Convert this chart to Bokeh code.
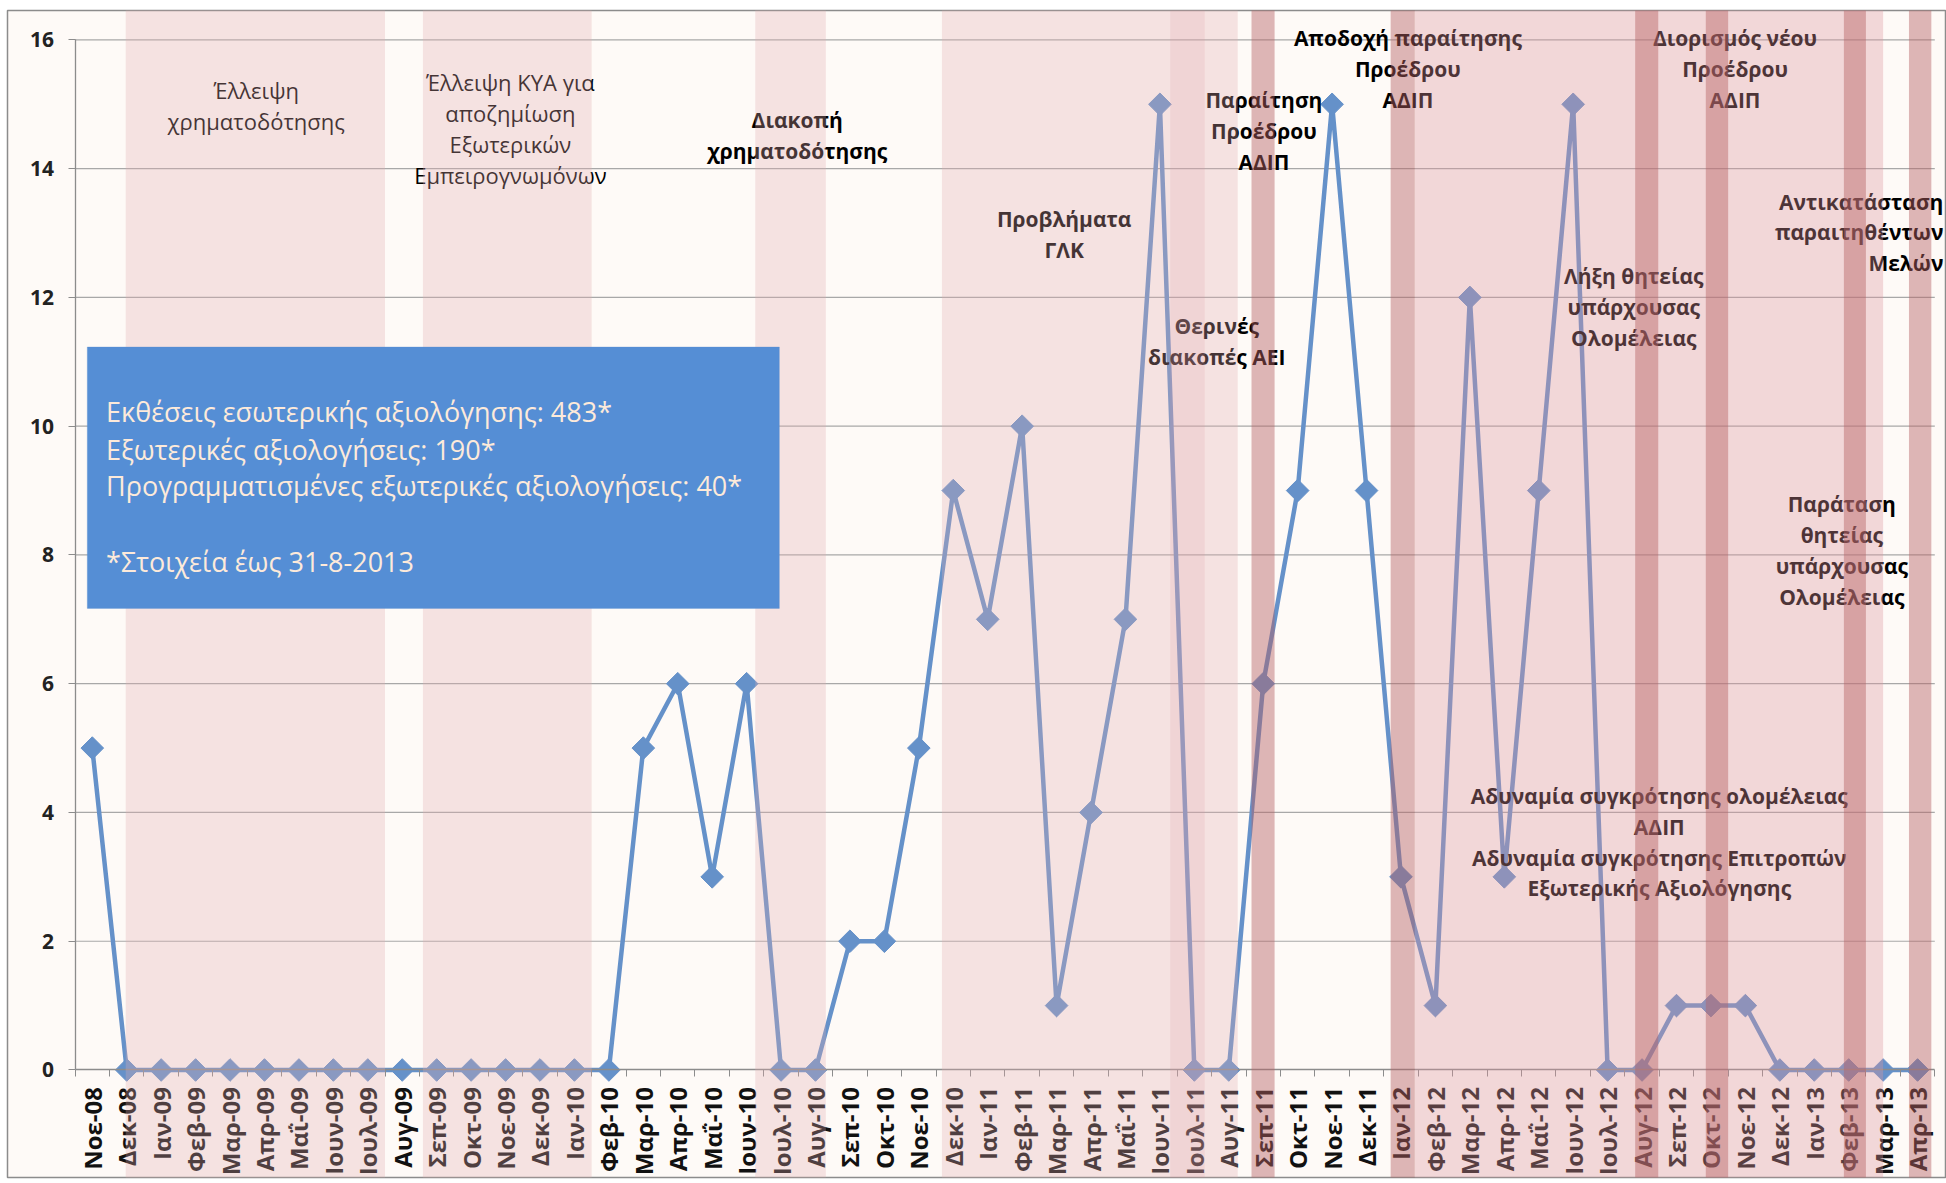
import math
from bokeh.plotting import figure
from bokeh.models import Range1d, FixedTicker, BoxAnnotation, Label
from bokeh.embed import file_html
from bokeh.resources import INLINE
from bokeh.core.properties import value

# ---------------- data ----------------
months = ["Νοε-08", "Δεκ-08",
          "Ιαν-09", "Φεβ-09", "Μαρ-09", "Απρ-09", "Μαΐ-09", "Ιουν-09", "Ιουλ-09", "Αυγ-09",
          "Σεπ-09", "Οκτ-09", "Νοε-09", "Δεκ-09",
          "Ιαν-10", "Φεβ-10", "Μαρ-10", "Απρ-10", "Μαΐ-10", "Ιουν-10", "Ιουλ-10", "Αυγ-10",
          "Σεπ-10", "Οκτ-10", "Νοε-10", "Δεκ-10",
          "Ιαν-11", "Φεβ-11", "Μαρ-11", "Απρ-11", "Μαΐ-11", "Ιουν-11", "Ιουλ-11", "Αυγ-11",
          "Σεπ-11", "Οκτ-11", "Νοε-11", "Δεκ-11",
          "Ιαν-12", "Φεβ-12", "Μαρ-12", "Απρ-12", "Μαΐ-12", "Ιουν-12", "Ιουλ-12", "Αυγ-12",
          "Σεπ-12", "Οκτ-12", "Νοε-12", "Δεκ-12",
          "Ιαν-13", "Φεβ-13", "Μαρ-13", "Απρ-13"]

counts = [5, 0,
          0, 0, 0, 0, 0, 0, 0, 0, 0, 0, 0, 0,
          0, 0, 5, 6, 3, 6, 0, 0, 2, 2, 5, 9,
          7, 10, 1, 4, 7, 15, 0, 0, 6, 9, 15, 9,
          3, 1, 12, 3, 9, 15, 0, 0, 1, 1, 1, 0,
          0, 0, 0, 0]

y_ticks = [0, 2, 4, 6, 8, 10, 12, 14, 16]

# shaded periods (positions on the month axis)
light_start = [0.97, 9.6, 19.25, 24.67]
light_end = [8.5, 14.5, 21.3, 33.26]
sub_start = [31.3]
sub_end = [32.3]
mid_start = [38.4]
mid_end = [52.0]
dark_start = [33.66, 37.7, 44.8, 46.85, 50.86, 52.75]
dark_end = [34.33, 38.4, 45.47, 47.5, 51.5, 53.4]

box_lines = ["Εκθέσεις εσωτερικής αξιολόγησης: 483*",
             "Εξωτερικές αξιολογήσεις: 190*",
             "Προγραμματισμένες εξωτερικές αξιολογήσεις: 40*",
             "*Στοιχεία έως 31-8-2013"]

# annotations: (lines, x, first-line y, weight, align)
notes = [
    (["Έλλειψη", "χρηματοδότησης"], 4.76, 15.22, "normal", "center"),
    (["Έλλειψη ΚΥΑ για", "αποζημίωση", "Εξωτερικών", "Εμπειρογνωμόνων"], 12.14, 15.34, "normal", "center"),
    (["Διακοπή", "χρηματοδότησης"], 20.47, 14.76, "bold", "center"),
    (["Προβλήματα", "ΓΛΚ"], 28.22, 13.22, "bold", "center"),
    (["Θερινές", "διακοπές ΑΕΙ"], 32.65, 11.56, "bold", "center"),
    (["Παραίτηση", "Προέδρου", "ΑΔΙΠ"], 34.02, 15.07, "bold", "center"),
    (["Αποδοχή παραίτησης", "Προέδρου", "ΑΔΙΠ"], 38.2, 16.03, "bold", "center"),
    (["Διορισμός νέου", "Προέδρου", "ΑΔΙΠ"], 47.7, 16.03, "bold", "center"),
    (["Λήξη θητείας", "υπάρχουσας", "Ολομέλειας"], 44.76, 12.33, "bold", "center"),
    (["Αντικατάσταση", "παραιτηθέντων", "Μελών"], 53.75, 13.49, "bold", "right"),
    (["Παράταση", "θητείας", "υπάρχουσας", "Ολομέλειας"], 50.8, 8.79, "bold", "center"),
    (["Αδυναμία συγκρότησης ολομέλειας", "ΑΔΙΠ", "Αδυναμία συγκρότησης Επιτροπών",
      "Εξωτερικής Αξιολόγησης"], 45.5, 4.26, "bold", "center"),
]

# ---------------- figure ----------------
idx = list(range(len(months)))
x_lo, x_hi = -0.5, len(months) - 0.5

p = figure(width=1946, height=1180,
           x_range=Range1d(-2.462, 53.84), y_range=Range1d(-1.67, 16.457),
           output_backend="svg", toolbar_location=None,
           min_border_left=7, min_border_right=0, min_border_top=10, min_border_bottom=3,
           background_fill_color="#FEFAF7", border_fill_color="white",
           outline_line_color="#8C8C8C", outline_line_width=1.5)
p.xgrid.visible = False
p.ygrid.visible = False

# grid lines
gl = [t for t in y_ticks if t > 0]
p.segment(x0=[x_lo] * len(gl), x1=[x_hi] * len(gl), y0=gl, y1=gl,
          line_color="#A8A8A8", line_width=1.2)

# series
line_color = "#6591C9"
p.line(idx, counts, line_color=line_color, line_width=4.5)
p.scatter(idx, counts, marker="square", angle=math.pi / 4, size=16,
          fill_color=line_color, line_color=line_color)

# annotation texts
ln_h = 0.48
for lines, x, y0, wt, al in notes:
    ys = [y0 - k * ln_h for k in range(len(lines))]
    p.text(x=[x] * len(lines), y=ys, text=lines, text_align=al, text_baseline="middle",
           text_font=value("Open Sans"), text_font_style=wt,
           text_font_size="22px" if wt == "normal" else "21px",
           text_color="#000000")

# axes
xa = p.xaxis[0]
xa.fixed_location = 0
xa.bounds = (x_lo, x_hi)
xa.ticker = FixedTicker(ticks=idx, minor_ticks=[i - 0.5 for i in range(len(months) + 1)])
xa.major_label_overrides = {i: m for i, m in enumerate(months)}
xa.major_label_orientation = math.pi / 2
xa.major_tick_out = 0
xa.major_tick_in = 0
xa.minor_tick_out = 7
xa.minor_tick_in = 0
xa.minor_tick_line_color = "#8C8C8C"
xa.axis_line_color = "#8C8C8C"
xa.axis_line_width = 1.3
xa.major_label_standoff = 10
xa.major_label_text_font = "Open Sans"
xa.major_label_text_font_style = "bold"
xa.major_label_text_font_size = "24px"
xa.major_label_text_color = "#111111"

ya = p.yaxis[0]
ya.fixed_location = x_lo
ya.bounds = (0, 16)
ya.ticker = FixedTicker(ticks=y_ticks, minor_ticks=[])
ya.major_tick_out = 7
ya.major_tick_in = 0
ya.minor_tick_out = 0
ya.minor_tick_in = 0
ya.major_tick_line_color = "#8C8C8C"
ya.axis_line_color = "#8C8C8C"
ya.axis_line_width = 1.3
ya.major_label_standoff = 14
ya.major_label_text_font = "Open Sans"
ya.major_label_text_font_style = "bold"
ya.major_label_text_font_size = "21px"
ya.major_label_text_color = "#222222"

# shaded periods (drawn above line, texts and axis labels)
y_lo, y_hi = p.y_range.start, p.y_range.end
p.quad(left=light_start, right=light_end, bottom=y_lo, top=y_hi,
       fill_color="#E0ADB1", fill_alpha=0.3, line_color=None, level="annotation")
p.quad(left=sub_start, right=sub_end, bottom=y_lo, top=y_hi,
       fill_color="#DC969E", fill_alpha=0.18, line_color=None, level="annotation")
p.quad(left=mid_start, right=mid_end, bottom=y_lo, top=y_hi,
       fill_color="#DC969E", fill_alpha=0.35, line_color=None, level="annotation")
p.quad(left=dark_start, right=dark_end, bottom=y_lo, top=y_hi,
       fill_color="#B56164", fill_alpha=0.45, line_color=None, level="annotation")

# summary box
p.add_layout(BoxAnnotation(left=-0.145, right=19.95, top=11.23, bottom=7.17,
                           fill_color="#558ED5", fill_alpha=1.0, line_color="#5B8FD0",
                           level="overlay"))
for txt, yy in zip(box_lines, [10.23, 9.64, 9.08, 7.90]):
    p.add_layout(Label(x=0.40, y=yy, text=txt, text_baseline="middle", text_align="left",
                       text_font="Open Sans", text_font_size="27px", text_color="#FDEADA",
                       level="overlay"))

open("out.html", "w").write(file_html(p, INLINE))
